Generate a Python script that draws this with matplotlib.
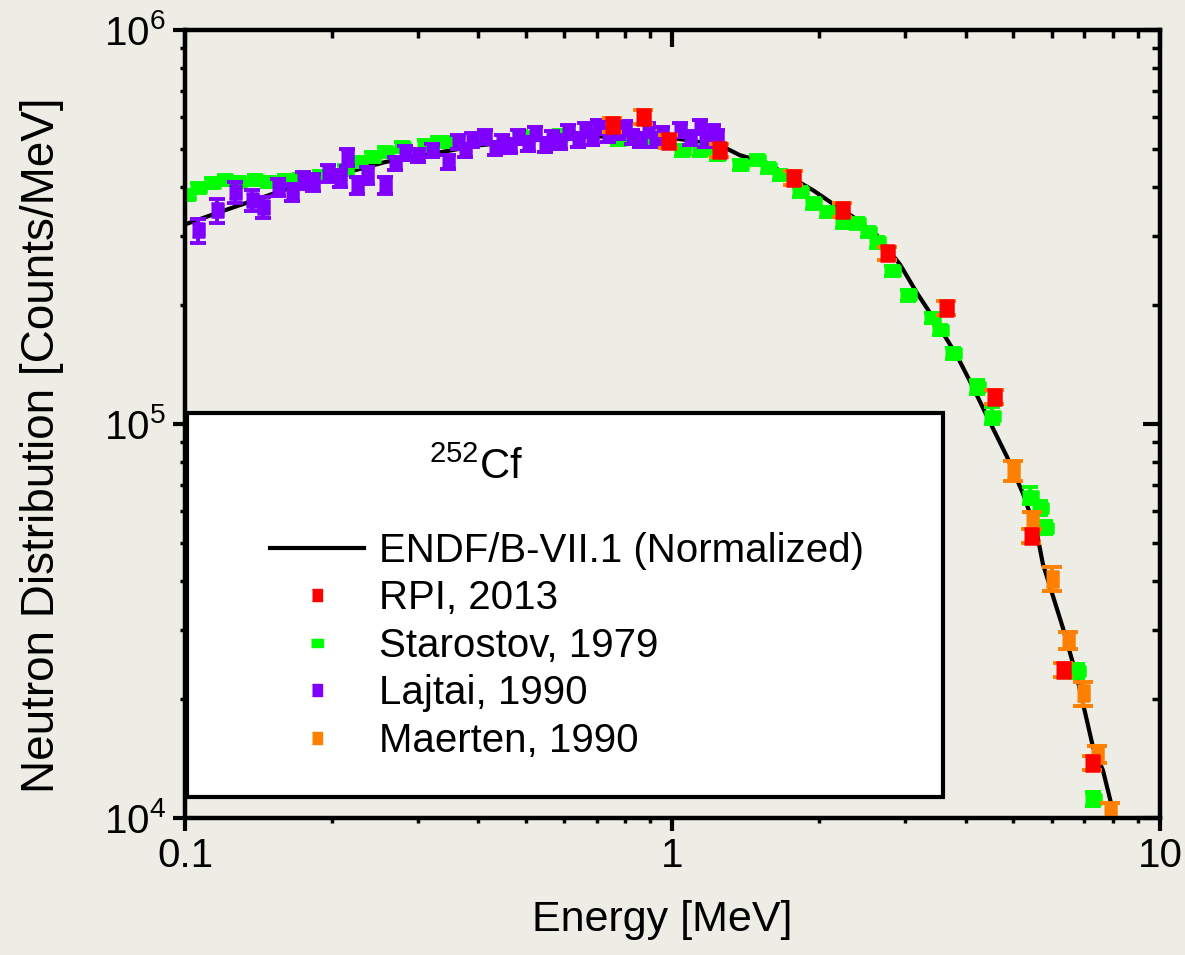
import matplotlib
matplotlib.use("Agg")
import numpy as np
import matplotlib.pyplot as plt
from matplotlib.lines import Line2D
from matplotlib.markers import MarkerStyle
from matplotlib.patches import Rectangle
from matplotlib.ticker import NullFormatter

plt.rcParams['font.family'] = ['Liberation Sans', 'DejaVu Sans']
plt.rcParams['mathtext.fontset'] = 'custom'
plt.rcParams['mathtext.rm'] = 'Liberation Sans'
plt.rcParams['mathtext.default'] = 'regular'

# ENDF/B-VII.1 curve
endf_e = [0.100, 0.121, 0.164, 0.257, 0.403, 0.646, 1.00, 1.252, 1.375, 1.563, 1.718,
          1.942, 2.134, 2.35, 2.627, 2.929, 3.173, 3.488, 3.833, 4.134, 4.479, 4.856,
          5.236, 5.593, 5.75, 6.32, 6.76, 7.29, 7.64, 8.01, 8.2]
endf_y = [3.21e5, 3.49e5, 3.97e5, 4.62e5, 5.10e5, 5.38e5, 5.32e5, 5.10e5, 4.81e5,
          4.60e5, 4.28e5, 3.92e5, 3.62e5, 3.35e5, 3.01e5, 2.54e5, 2.15e5, 1.80e5,
          1.49e5, 1.24e5, 1.01e5, 8.25e4, 6.66e4, 5.27e4, 4.42e4, 3.04e4, 2.27e4,
          1.51e4, 1.32e4, 1.04e4, 9.0e3]

# RPI, 2013
rpi_e = [0.751, 0.870, 0.979, 1.246, 1.767, 2.23, 2.75, 3.64, 4.57, 5.44, 6.32, 7.25]
rpi_y = [5.74e5, 6.01e5, 5.22e5, 4.95e5, 4.21e5, 3.49e5, 2.71e5, 1.97e5, 1.17e5,
         5.21e4, 2.38e4, 1.38e4]
rpi_pct = [4, 4, 4, 4, 4, 4, 4, 4, 4, 4, 4, 4]

# Starostov, 1979
star_e = [0.1009, 0.1063, 0.1136, 0.1208, 0.1284, 0.1392, 0.1480, 0.1604, 0.1721,
          0.1892, 0.2129, 0.2264, 0.2419, 0.2572, 0.2787, 0.3107, 0.3304, 0.3529,
          0.4029, 0.4866, 0.5874, 0.7731, 0.8907, 1.046, 1.139, 1.234, 1.376, 1.491,
          1.570, 1.662, 1.826, 1.942, 2.075, 2.238, 2.390, 2.518, 2.627, 2.820, 3.041,
          3.406, 3.537, 3.762, 4.215, 4.523, 5.412, 5.673, 5.809, 6.757, 7.289]
star_y = [3.81e5, 3.97e5, 4.09e5, 4.16e5, 4.11e5, 4.16e5, 4.11e5, 4.16e5, 4.18e5,
          4.26e5, 4.41e5, 4.62e5, 4.76e5, 4.90e5, 5.04e5, 5.10e5, 5.19e5, 5.19e5,
          5.32e5, 5.38e5, 5.41e5, 5.26e5, 5.19e5, 4.95e5, 4.95e5, 4.81e5, 4.54e5,
          4.67e5, 4.46e5, 4.28e5, 3.88e5, 3.63e5, 3.45e5, 3.25e5, 3.23e5, 3.07e5,
          2.89e5, 2.45e5, 2.12e5, 1.86e5, 1.73e5, 1.51e5, 1.24e5, 1.05e5, 6.58e4,
          6.13e4, 5.46e4, 2.36e4, 1.12e4]
star_pct = [3] * 40 + [3, 3, 4, 5, 5, 4, 4, 4, 4]

# Lajtai, 1990
laj_e = [0.1063, 0.1163, 0.1266, 0.1372, 0.1445, 0.1551, 0.1658, 0.1746, 0.1830,
         0.1965, 0.2079, 0.2149, 0.2253, 0.2362, 0.2572, 0.2696, 0.2827, 0.3005,
         0.3211, 0.3463, 0.3631, 0.3752, 0.3879, 0.4124, 0.4325, 0.4469, 0.4642,
         0.4821, 0.5053, 0.5224, 0.5474, 0.5660, 0.5874, 0.6105, 0.6400, 0.6614,
         0.6838, 0.7032, 0.7375, 0.7731, 0.7993, 0.8259, 0.8577, 0.8907, 0.9207,
         0.9516, 1.036, 1.086, 1.139, 1.166, 1.211, 1.234]
laj_y = [3.10e5, 3.49e5, 3.88e5, 3.70e5, 3.55e5, 3.99e5, 3.88e5, 4.16e5, 4.11e5,
         4.33e5, 4.21e5, 4.76e5, 4.04e5, 4.28e5, 4.04e5, 4.59e5, 4.87e5, 4.81e5,
         4.95e5, 4.62e5, 5.19e5, 4.95e5, 5.26e5, 5.35e5, 5.01e5, 5.19e5, 5.07e5,
         5.35e5, 5.13e5, 5.47e5, 5.10e5, 5.32e5, 5.19e5, 5.51e5, 5.26e5, 5.57e5,
         5.32e5, 5.67e5, 5.41e5, 5.51e5, 5.64e5, 5.35e5, 5.26e5, 5.57e5, 5.26e5,
         5.47e5, 5.57e5, 5.32e5, 5.67e5, 5.26e5, 5.51e5, 5.35e5]
laj_pct = [7, 7, 6, 6, 6, 5, 5, 5, 5, 5, 5, 5, 5, 5, 5] + [4] * 37

# Maerten, 1990
mae_e = [4.99, 5.46, 6.00, 6.48, 6.95, 7.43, 7.90]
mae_y = [7.62e4, 5.69e4, 4.05e4, 2.82e4, 2.07e4, 1.45e4, 1.04e4]
mae_pct = [6, 5, 7, 5, 7, 5, 5]

labels = ['ENDF/B-VII.1 (Normalized)', 'RPI, 2013', 'Starostov, 1979',
          'Lajtai, 1990', 'Maerten, 1990']

c_red = '#ff0000'
c_green = '#00ff00'
c_purple = '#8000ff'
c_orange = '#ff8000'
bg = '#eeede5'

wide = MarkerStyle([(-1, -0.65), (1, -0.65), (1, 0.65), (-1, 0.65)], joinstyle='round')
tall = MarkerStyle([(-0.85, -1), (0.85, -1), (0.85, 1), (-0.85, 1)], joinstyle='round')


def draw_set(ax, x, y, pct, color, ecolor, marker, ms, cap, z):
    y = np.array(y)
    err = y * np.array(pct) / 100.0
    ax.errorbar(x, y, yerr=err, fmt='none', ecolor=ecolor, elinewidth=2.8,
                capsize=cap, capthick=2.8, zorder=z)
    ax.plot(x, y, ls='none', marker=marker, ms=ms, color=color, mec=color,
            mew=1.8, zorder=z + 0.1)


fig = plt.figure(figsize=(11.85, 9.55), dpi=100, facecolor=bg)
ax = fig.add_axes([0.1561, 0.1435, 0.8228, 0.8251])
ax.set_facecolor(bg)
ax.set_xscale('log')
ax.set_yscale('log')

ax.plot(endf_e, endf_y, color='black', lw=3, zorder=2)
draw_set(ax, star_e, star_y, star_pct, c_green, c_green, wide, 11, 6, 3)
draw_set(ax, laj_e, laj_y, laj_pct, c_purple, c_purple, tall, 10, 6, 4)
draw_set(ax, mae_e, mae_y, mae_pct, c_orange, c_orange, tall, 11, 7, 5)
draw_set(ax, rpi_e, rpi_y, rpi_pct, c_red, c_orange, tall, 12, 7, 6)

ax.set_xlim(0.1, 10)
ax.set_ylim(1e4, 1e6)
ax.set_xticks([0.1, 1, 10], labels=['0.1', '1', '10'])
ax.set_yticks([1e4, 1e5, 1e6], labels=['$10^4$', '$10^5$', '$10^6$'])
ax.xaxis.set_minor_formatter(NullFormatter())
ax.yaxis.set_minor_formatter(NullFormatter())
ax.tick_params(which='major', direction='out', length=9, width=3, labelsize=29, pad=5)
ax.tick_params(which='minor', direction='out', length=3.5, width=2.5)

# inward ticks on top and right
ax_r = ax.twinx()
ax_r.set_yscale('log')
ax_r.set_ylim(1e4, 1e6)
ax_r.yaxis.set_minor_formatter(NullFormatter())
ax_r.tick_params(axis='y', which='major', direction='in', length=12, width=3, labelright=False)
ax_r.tick_params(axis='y', which='minor', direction='in', length=6, width=2.5)
ax_t = ax.twiny()
ax_t.set_xscale('log')
ax_t.set_xlim(0.1, 10)
ax_t.xaxis.set_minor_formatter(NullFormatter())
ax_t.tick_params(axis='x', which='major', direction='in', length=12, width=3, labeltop=False)
ax_t.tick_params(axis='x', which='minor', direction='in', length=6, width=2.5)
for a in (ax, ax_r, ax_t):
    for s in a.spines.values():
        s.set_linewidth(3)

ax.set_xlabel('Energy [MeV]', fontsize=31)
ax.xaxis.set_label_coords(0.489, -0.104)
ax.set_ylabel('Neutron Distribution [Counts/MeV]', fontsize=33)
ax.yaxis.set_label_coords(-0.124, 0.473)

# legend box
ax.add_patch(Rectangle((0.002, 0.027), 0.775, 0.487, transform=ax.transAxes,
                       facecolor='white', edgecolor='black', lw=3, zorder=10))
ax.text(0.2985, 0.445, '$^{252}$Cf', transform=ax.transAxes, fontsize=30,
        ha='center', va='center', zorder=11)
handles = [
    Line2D([], [], color='black', lw=3),
    Line2D([], [], ls='none', marker=tall, ms=9, color=c_red),
    Line2D([], [], ls='none', marker=wide, ms=8, color=c_green),
    Line2D([], [], ls='none', marker=tall, ms=9, color=c_purple),
    Line2D([], [], ls='none', marker=tall, ms=9, color=c_orange),
]
leg = ax.legend(handles, labels, loc='upper left', bbox_to_anchor=(0.087, 0.363),
                frameon=False, fontsize=29, handlelength=2.35, handletextpad=0.35,
                borderpad=0, borderaxespad=0, labelspacing=0.235)
leg.set_zorder(11)

fig.savefig('out.png', dpi=100, facecolor=bg)
